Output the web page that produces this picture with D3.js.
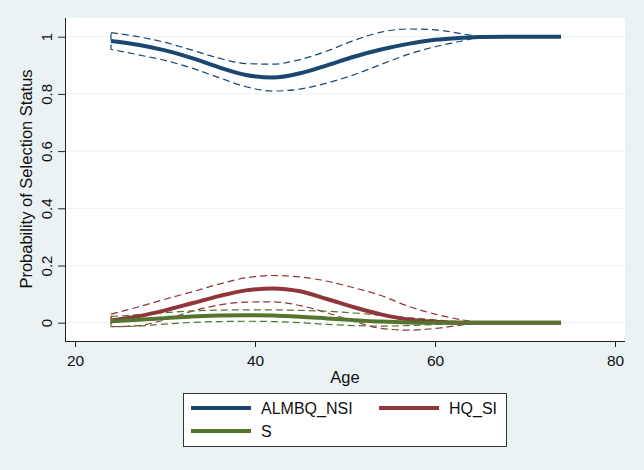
<!DOCTYPE html>
<html><head><meta charset="utf-8">
<script src="https://cdn.jsdelivr.net/npm/d3@7"></script>
<style>body{margin:0;background:#eaf2f3;} text{font-family:"Liberation Sans",Arial,sans-serif;}</style>
</head><body><svg id="c" width="644" height="470"></svg>
<script>
const ciAges = [24,27,30,33,36,39,42,45,48,51,54,57,60,63,65];
const meanAges = [24,27,30,33,36,39,42,45,48,51,54,57,60,63,65,68,71,74];

const almbqMean = [0.985,0.972,0.952,0.925,0.893,0.866,0.857,0.872,0.900,0.930,0.955,0.975,0.989,0.996,0.999,1,1,1];
const almbqUpper = [1.014,1.000,0.980,0.953,0.925,0.906,0.904,0.920,0.950,0.987,1.016,1.027,1.024,1.010,1.000];
const almbqLower = [0.956,0.937,0.917,0.890,0.857,0.825,0.810,0.817,0.838,0.867,0.903,0.938,0.965,0.985,1.000];

const hqMean = [0.008,0.022,0.043,0.068,0.093,0.113,0.120,0.110,0.083,0.054,0.029,0.011,0.003,0,0,0,0,0];
const hqUpper = [0.030,0.055,0.082,0.108,0.135,0.157,0.165,0.160,0.145,0.122,0.095,0.058,0.030,0.010,0.0];
const hqLower = [-0.014,-0.010,0.010,0.040,0.062,0.072,0.073,0.060,0.035,0.005,-0.020,-0.026,-0.020,-0.008,0];

const sMean = [0.005,0.010,0.016,0.022,0.025,0.026,0.025,0.021,0.015,0.009,0.004,0.001,0,0,0,0,0,0];
const sUpper = [0.022,0.028,0.035,0.041,0.044,0.045,0.045,0.043,0.040,0.034,0.026,0.018,0.010,0.003,0];
const sLower = [-0.014,-0.012,-0.005,0.001,0.004,0.005,0.004,0.000,-0.006,-0.010,-0.012,-0.010,-0.006,-0.002,0];

const xTicks = [20,40,60,80];
const yTicks = [0,0.2,0.4,0.6,0.8,1];
const yTickLabels = ["0","0.2","0.4","0.6","0.8","1"];
const seriesNames = ["ALMBQ_NSI","HQ_SI","S"];
const colors = ["#1a476f","#90353b","#55752f"];

const svg = d3.select("#c");
const x = d3.scaleLinear().domain([20,80]).range([75,615]);
const y = d3.scaleLinear().domain([0,1]).range([322.7,36.7]);
const plot = {l:65, r:625, t:18, b:341};

svg.append("rect").attr("width",644).attr("height",470).attr("fill","#eaf2f3");
svg.append("rect").attr("x",plot.l).attr("y",plot.t).attr("width",plot.r-plot.l).attr("height",plot.b-plot.t).attr("fill","#fff");

// grid
svg.append("g").selectAll("line").data(yTicks).join("line")
  .attr("x1",plot.l).attr("x2",plot.r).attr("y1",d=>y(d)).attr("y2",d=>y(d))
  .attr("stroke","#eaf2f3").attr("stroke-width",1);

// axes
const yAx = svg.append("g").attr("transform",`translate(${plot.l},0)`)
  .call(d3.axisLeft(y).tickValues(yTicks).tickSize(7).tickFormat((d,i)=>yTickLabels[i]));
yAx.select(".domain").attr("d",`M0.5,${plot.t}V${plot.b}`).attr("stroke","#222");
yAx.selectAll(".tick line").attr("stroke","#222");
yAx.selectAll(".tick text").attr("font-size",15).attr("fill","#111")
  .attr("transform","rotate(-90)").attr("text-anchor","middle").attr("x",0).attr("y",-13).attr("dy",0);

const xAx = svg.append("g").attr("transform",`translate(0,${plot.b})`)
  .call(d3.axisBottom(x).tickValues(xTicks).tickSize(6));
xAx.select(".domain").attr("d",`M${plot.l},0.5H${plot.r}`).attr("stroke","#222");
xAx.selectAll(".tick line").attr("stroke","#222");
xAx.selectAll(".tick text").attr("font-size",15.5).attr("fill","#111").attr("y",25).attr("dy",0);

svg.append("text").attr("x",345).attr("y",383).attr("text-anchor","middle").attr("font-size",16.5).attr("fill","#111").text("Age");
svg.append("text").attr("transform","translate(32,179) rotate(-90)").attr("text-anchor","middle").attr("font-size",16.5).attr("fill","#111").text("Probability of Selection Status");

const series = [
  {mean:almbqMean, up:almbqUpper, lo:almbqLower},
  {mean:hqMean, up:hqUpper, lo:hqLower},
  {mean:sMean, up:sUpper, lo:sLower}
];

const area = d3.area().x(d=>x(d.a)).y0(d=>y(d.lo)).y1(d=>y(d.up)).curve(d3.curveMonotoneX);
const line = d3.line().x(d=>x(d.a)).y(d=>y(d.v)).curve(d3.curveMonotoneX);

series.forEach((s,i)=>{
  const pts = ciAges.map((a,j)=>({a, up:s.up[j], lo:s.lo[j]}));
  svg.append("path").attr("d",area(pts)+"Z").attr("fill","none")
    .attr("stroke",colors[i]).attr("stroke-width",1.2).attr("stroke-dasharray","7,4");
});
series.forEach((s,i)=>{
  const pts = meanAges.map((a,j)=>({a, v:s.mean[j]}));
  svg.append("path").attr("d",line(pts)).attr("fill","none")
    .attr("stroke",colors[i]).attr("stroke-width",4).attr("stroke-linecap","butt");
});

// legend
const lg = svg.append("g");
lg.append("rect").attr("x",183.5).attr("y",393.5).attr("width",323).attr("height",53).attr("fill","#fff").attr("stroke","#333").attr("stroke-width",1);
const lpos = [{x:191,y:408},{x:379,y:408},{x:191,y:431}];
seriesNames.forEach((n,i)=>{
  lg.append("line").attr("x1",lpos[i].x).attr("x2",lpos[i].x+60).attr("y1",lpos[i].y).attr("y2",lpos[i].y)
    .attr("stroke",colors[i]).attr("stroke-width",4);
  lg.append("text").attr("x",lpos[i].x+70).attr("y",lpos[i].y+6).attr("font-size",16).attr("fill","#111").text(n);
});
</script></body></html>
